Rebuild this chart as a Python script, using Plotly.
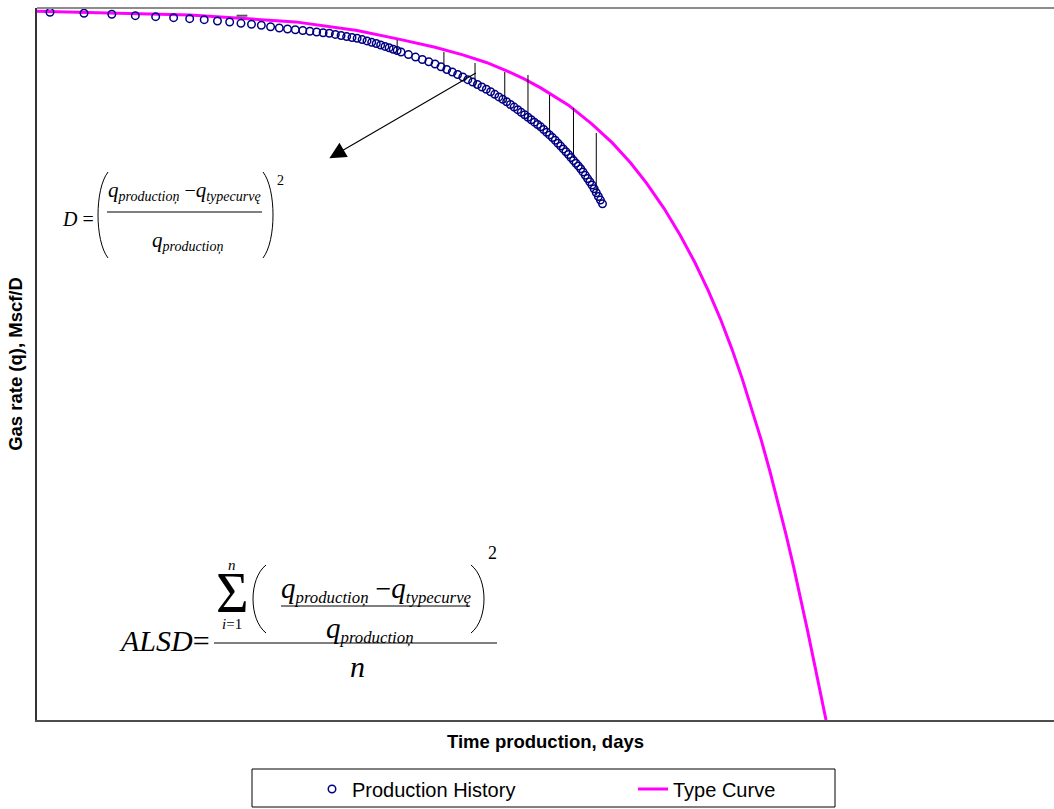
import math
import plotly.graph_objects as go

# ---------------------------------------------------------------------------
# Data
# ---------------------------------------------------------------------------
# Production history: time (days) and measured gas rate (Mscf/D)
prod_days = [4, 5, 6, 7, 8, 9, 10, 11, 12, 13, 14, 15, 16, 17, 18, 19, 20,
             21, 22, 23, 24, 25, 26, 27, 28, 29, 30, 31, 32, 33, 34, 35, 36,
             37, 38, 39, 40,
             42, 44, 46, 48, 50, 52, 54, 56, 58, 60, 62, 64, 66, 68, 70, 72,
             74, 76, 78, 80, 82, 84, 86, 88, 90, 92, 94, 96, 98, 100, 102,
             104, 106, 108, 110, 112, 114, 116, 118, 120, 122, 124, 126, 128,
             130, 132, 134, 136, 138, 140, 142, 144, 146, 148, 150]
prod_rate = [994.0, 992.6, 991.2, 989.2, 987.8, 986.4, 985.0, 983.6, 981.8,
             980.3, 978.5, 977.1, 975.7, 973.7, 971.9, 970.5, 969.5, 968.4,
             967.3, 966.3, 965.3, 964.5, 962.9, 961.4, 959.8, 958.6, 957.4,
             955.6, 953.8, 951.8, 950.1, 948.0, 946.1, 944.1, 942.1, 940.2,
             938.2,
             934.6, 931.1, 927.7, 924.5, 921.3, 917.4, 913.7, 910.1, 906.6,
             903.1, 899.4, 895.9, 892.5, 889.1, 885.9, 882.3, 878.7, 875.1,
             871.7, 868.3, 864.5, 860.8, 857.2, 853.5, 850.1, 846.5, 843.1,
             839.7, 836.3, 833.1, 829.4, 825.4, 821.8, 818.0, 814.3, 810.1,
             806.1, 802.1, 798.1, 794.2, 790.0, 785.9, 782.0, 778.2, 774.3,
             769.8, 765.0, 760.4, 755.9, 751.4, 746.1, 740.6, 735.3, 730.2,
             724.9]

# Type curve
type_days = [3, 5, 10, 20, 30, 40, 50, 60, 70, 80, 90, 100, 120, 140, 160,
             180, 200, 225, 250, 275, 300, 325, 350, 375, 400, 425, 450, 475,
             500, 525, 550, 575, 600, 625, 650]
type_rate = [996.5, 994.1, 990.0, 980.5, 968.5, 955.6, 944.9, 934.1, 923.5,
             911.8, 900.1, 887.8, 863.6, 836.8, 810.5, 783.0, 754.5, 718.0,
             680.5, 642.5, 603.5, 563.5, 522.0, 479.5, 436.5, 393.0, 349.0,
             305.0, 260.5, 216.0, 171.5, 127.0, 83.0, 40.5, 0.0]

# Deviation segments between history and type curve
dev_days = [39, 53, 65, 79, 92, 106, 124, 144]
dev_top = [955.1, 938.2, 922.8, 910.1, 905.9, 877.8, 859.6, 824.5]
dev_bottom = [934.0, 910.1, 889.0, 866.6, 842.7, 825.8, 789.3, 737.4]

# Short mark near the start of the history
dash_days = [13.6, 14.6]
dash_rate = [989.2, 989.2]

# Pointer from the deviations to the D definition (tail -> tip)
arrow_tail = (66, 910)
arrow_tip = (25, 789)

x_range_days = (3.673, 2900)
y_range_rate = (0, 1000)

# ---------------------------------------------------------------------------
# Layout geometry (pixels)
# ---------------------------------------------------------------------------
W, H = 1054, 809
ML, MR, MT, MB = 37, 0, 8, 89
PW, PH = W - ML - MR, H - MT - MB


def px(x):
    return (x - ML) / PW


def py(y):
    return (H - MB - y) / PH


SERIF = "Liberation Serif"
SANS = "Liberation Sans"

fig = go.Figure()

fig.add_trace(go.Scatter(
    x=type_days, y=type_rate, mode="lines", name="Type Curve",
    line=dict(color="#FF00FF", width=3), legendrank=2,
))

dx, dy = [], []
for d, lo, hi in zip(dev_days, dev_bottom, dev_top):
    dx += [d, d, None]
    dy += [lo, hi, None]
fig.add_trace(go.Scatter(
    x=dx, y=dy, mode="lines", showlegend=False, hoverinfo="skip",
    line=dict(color="black", width=1),
))
fig.add_trace(go.Scatter(
    x=dash_days, y=dash_rate, mode="lines", showlegend=False,
    hoverinfo="skip", line=dict(color="#555555", width=2),
))

fig.add_trace(go.Scatter(
    x=prod_days, y=prod_rate, mode="markers", name="Production History",
    marker=dict(symbol="circle-open", size=7.5, color="#000080",
                line=dict(color="#000080", width=1.5)),
    legendrank=1,
))

annotations = []
shapes = []

# arrow
annotations.append(dict(
    x=math.log10(arrow_tip[0]), y=arrow_tip[1], xref="x", yref="y",
    ax=math.log10(arrow_tail[0]), ay=arrow_tail[1], axref="x", ayref="y",
    showarrow=True, arrowhead=2, arrowsize=3, arrowwidth=1.1,
    arrowcolor="black", text="", standoff=0, startstandoff=0,
))


def text(x, y, s, size, xanchor="center", family=SERIF):
    annotations.append(dict(
        x=px(x), y=py(y), xref="paper", yref="paper", text=s,
        showarrow=False, xanchor=xanchor, yanchor="middle",
        font=dict(family=family, size=size, color="black"),
    ))


def hline(x0, x1, y, width=1):
    shapes.append(dict(type="line", xref="paper", yref="paper",
                       x0=px(x0), x1=px(x1), y0=py(y), y1=py(y),
                       line=dict(color="black", width=width)))


def paren(x_end, x_bulge, y0, y1, width=1):
    # tall bracket drawn as a cubic curve
    c = x_end + (x_bulge - x_end) * 4 / 3
    d = (f"M {px(x_end)},{py(y0)} C {px(c)},{py(y0 + (y1 - y0) * 0.2)} "
         f"{px(c)},{py(y0 + (y1 - y0) * 0.8)} {px(x_end)},{py(y1)}")
    shapes.append(dict(type="path", xref="paper", yref="paper", path=d,
                       line=dict(color="black", width=width)))


def qterm(sub, qsize):
    return (f'<i><span style="font-size:{qsize}px">q</span>'
            f'<sub>{sub}</sub></i>')


def minus(size):
    return f'<span style="font-size:{size}px"> −</span>'


# D definition
text(96, 219, "<i>D</i> =", 20, xanchor="right")
paren(108, 98, 172, 258)
text(184, 191, qterm("productioņ", 21) + minus(20) + qterm("typecurvę", 21),
     20)
hline(107, 262, 212)
text(187, 241, qterm("productioņ", 21), 20)
paren(263, 273, 172, 258)
text(280, 180, "2", 14)

# ALSD definition
text(212, 640, "<i>ALSD</i>=", 30, xanchor="right")
text(232, 593, "Σ", 56)
text(232, 565, "<i>n</i>", 15)
text(232, 624, "<i>i</i>=1", 15)
paren(266, 253, 565, 633)
text(376, 589, qterm("productioņ", 29) + minus(28) + qterm("typecurvę", 29),
     24)
hline(281, 470, 606)
text(370, 629, qterm("productioņ", 29), 24)
paren(471, 484, 565, 633)
text(492, 553, "2", 18)
hline(214, 497, 643, 1.2)
text(357, 666, "<i>n</i>", 30)

# top frame edge
shapes.append(dict(type="line", xref="paper", yref="paper", x0=0, x1=1,
                   y0=1, y1=1, line=dict(color="#8c8c8c", width=2)))

# legend frame
shapes.append(dict(type="rect", xref="paper", yref="paper",
                   x0=px(252), x1=px(835), y0=py(769), y1=py(807),
                   line=dict(color="black", width=1)))

fig.update_layout(
    width=W, height=H, autosize=False,
    margin=dict(l=ML, r=MR, t=MT, b=MB, pad=0),
    paper_bgcolor="white", plot_bgcolor="white",
    showlegend=True,
    legend=dict(
        orientation="h", x=px(312), y=py(789), xanchor="left",
        yanchor="middle", bgcolor="rgba(0,0,0,0)", borderwidth=0,
        font=dict(family=SANS, size=20, color="black"),
        entrywidth=276, traceorder="normal",
    ),
    xaxis=dict(
        type="log",
        range=[math.log10(x_range_days[0]), math.log10(x_range_days[1])],
        showgrid=False, zeroline=False, showticklabels=False, ticks="",
        showline=True, linecolor="#4d4d4d", linewidth=2,
        title=dict(text="Time production, days",
                   font=dict(family=SANS, size=18.5, color="black",
                             weight="bold"),
                   standoff=14),
    ),
    yaxis=dict(
        range=list(y_range_rate),
        showgrid=False, zeroline=False, showticklabels=False, ticks="",
        showline=True, linecolor="#333333", linewidth=1.5,
        title=dict(text="Gas rate (q), Mscf/D",
                   font=dict(family=SANS, size=18.5, color="black",
                             weight="bold"),
                   standoff=8),
    ),
    annotations=annotations,
    shapes=shapes,
)

fig.write_html("out.html")
